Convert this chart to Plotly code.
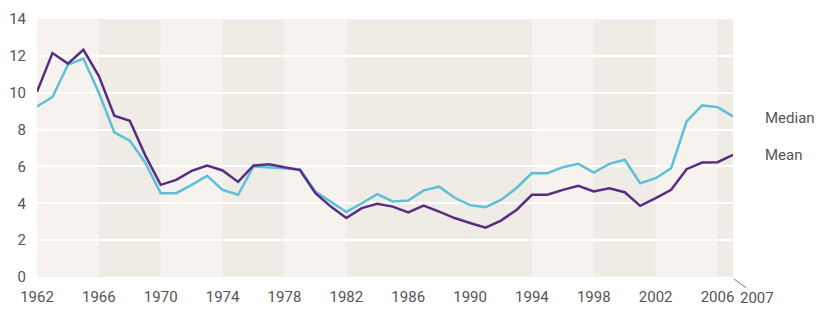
import plotly.graph_objects as go

years = list(range(1962, 2008))
mean_vals = [10.05, 12.15, 11.58, 12.33, 10.9, 8.75, 8.48, 6.6, 5.0, 5.27,
             5.76, 6.05, 5.78, 5.16, 6.05, 6.12, 5.95, 5.8, 4.55, 3.82,
             3.2, 3.74, 3.97, 3.82, 3.5, 3.88, 3.55, 3.2, 2.93, 2.68,
             3.06, 3.64, 4.46, 4.46, 4.73, 4.95, 4.64, 4.82, 4.6, 3.86,
             4.28, 4.73, 5.85, 6.21, 6.23, 6.63]
median_vals = [9.26, 9.77, 11.52, 11.85, 10.0, 7.85, 7.4, 6.2, 4.55, 4.55,
               5.0, 5.49, 4.73, 4.46, 6.0, 5.95, 5.9, 5.85, 4.64, 4.08,
               3.53, 4.0, 4.5, 4.1, 4.15, 4.7, 4.9, 4.3, 3.9, 3.79,
               4.18, 4.83, 5.64, 5.63, 5.96, 6.14, 5.67, 6.14, 6.36, 5.09,
               5.36, 5.9, 8.44, 9.31, 9.22, 8.71]
x_ticks = [1962, 1966, 1970, 1974, 1978, 1982, 1986, 1990, 1994, 1998, 2002, 2006]
y_ticks = [0, 2, 4, 6, 8, 10, 12, 14]
band_starts = [1966, 1974, 1982, 1998, 2006]
band_ends = [1970, 1978, 1994, 2002, 2007]

FONT = "Roboto, Liberation Sans, sans-serif"
GREY = "#555555"

fig = go.Figure()
fig.add_trace(go.Scatter(x=years, y=median_vals, mode="lines", name="Median",
                         line=dict(color="#5dbfd8", width=2.5)))
fig.add_trace(go.Scatter(x=years, y=mean_vals, mode="lines", name="Mean",
                         line=dict(color="#5a2d84", width=2.5)))

shapes = []
for s, e in zip(band_starts, band_ends):
    shapes.append(dict(type="rect", xref="x", yref="y", x0=s, x1=e, y0=0, y1=14,
                       fillcolor="#efebe5", line=dict(width=0), layer="below"))
# small leader line to the 2007 label
shapes.append(dict(type="line", xref="paper", yref="paper",
                   x0=1.0015, y0=-0.008, x1=1.019, y1=-0.042,
                   line=dict(color="#777777", width=1)))

annotations = [
    dict(text="Median", xref="paper", yref="paper", x=1.043, y=0.616,
         xanchor="left", yanchor="middle", showarrow=False,
         font=dict(family=FONT, size=15, color=GREY)),
    dict(text="Mean", xref="paper", yref="paper", x=1.043, y=0.473,
         xanchor="left", yanchor="middle", showarrow=False,
         font=dict(family=FONT, size=15, color=GREY)),
    dict(text="2007", xref="paper", yref="paper", x=1.034, y=-0.083,
         xanchor="center", yanchor="middle", showarrow=False,
         font=dict(family=FONT, size=15, color=GREY)),
]

# page body has an 8px margin, so the figure is sized/margined to compensate
fig.update_layout(
    width=816, height=304,
    margin=dict(l=29, r=91, t=11, b=35),
    paper_bgcolor="white",
    plot_bgcolor="#f6f3ee",
    showlegend=False,
    shapes=shapes,
    annotations=annotations,
    font=dict(family=FONT, size=15, color=GREY),
    xaxis=dict(range=[1962, 2007], tickvals=x_ticks, showgrid=False,
               zeroline=False, showline=False, ticks="outside", ticklen=6,
               tickcolor="rgba(0,0,0,0)", fixedrange=True, automargin=False),
    yaxis=dict(range=[0, 14], tickvals=y_ticks, showgrid=True,
               gridcolor="white", gridwidth=2, zeroline=False, showline=False,
               ticks="outside", ticklen=7, tickcolor="rgba(0,0,0,0)",
               fixedrange=True, automargin=False),
)

fig.write_html("out.html")
